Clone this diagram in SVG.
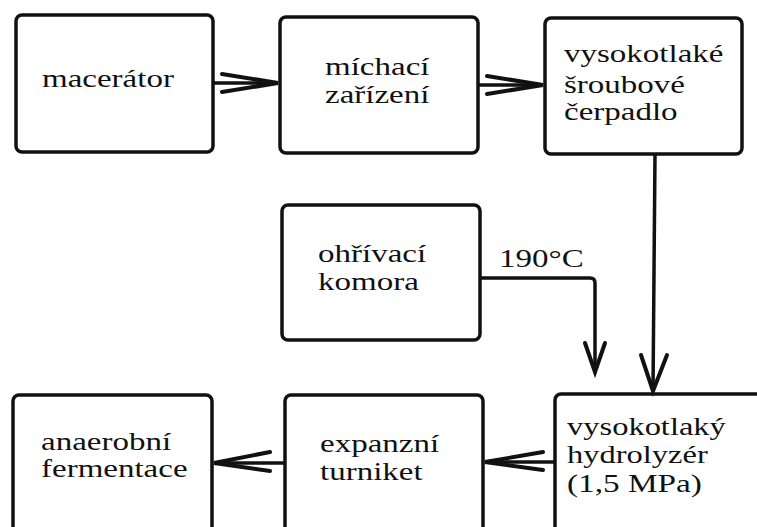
<svg xmlns="http://www.w3.org/2000/svg" width="757" height="527" viewBox="0 0 757 527">
<style>
.box{fill:#fff;stroke:#111;stroke-width:3.5}
.t{font-family:'Liberation Serif','Times New Roman',serif;font-size:26px;fill:#111}
.ln{fill:none;stroke:#111;stroke-width:3.5;stroke-linejoin:round}
.ah{fill:none;stroke:#111;stroke-width:4;stroke-linecap:round;stroke-linejoin:miter}
</style>
<rect width="757" height="527" fill="#fff"/>
<g id="macerator">
<rect class="box" x="16" y="15" width="197" height="137" rx="6"/>
<text class="t" transform="translate(42,87) scale(1.27,1)">macerátor</text>
</g>
<g id="michaci">
<rect class="box" x="280" y="17" width="198" height="136" rx="6"/>
<text class="t" transform="translate(325,75) scale(1.27,1)">míchací</text>
<text class="t" transform="translate(325,103) scale(1.27,1)">zařízení</text>
</g>
<g id="cerpadlo">
<rect class="box" x="545" y="18" width="197" height="136" rx="6"/>
<text class="t" transform="translate(564,62) scale(1.27,1)">vysokotlaké</text>
<text class="t" transform="translate(564,93) scale(1.27,1)">šroubové</text>
<text class="t" transform="translate(564,120) scale(1.27,1)">čerpadlo</text>
</g>
<g id="ohrivaci">
<rect class="box" x="282" y="205" width="198" height="135" rx="6"/>
<text class="t" transform="translate(318,262) scale(1.27,1)">ohřívací</text>
<text class="t" transform="translate(318,290) scale(1.27,1)">komora</text>
</g>
<g id="hydrolyzer">
<rect class="box" x="555" y="394" width="215" height="150" rx="6"/>
<text class="t" transform="translate(567,435) scale(1.25,1)">vysokotlaký</text>
<text class="t" transform="translate(567,463) scale(1.25,1)">hydrolyzér</text>
<text class="t" transform="translate(567,492) scale(1.28,1)">(1,5 MPa)</text>
</g>
<g id="expanzni">
<rect class="box" x="285" y="395" width="198" height="150" rx="6"/>
<text class="t" transform="translate(320,452) scale(1.27,1)">expanzní</text>
<text class="t" transform="translate(320,480) scale(1.27,1)">turniket</text>
</g>
<g id="anaerobni">
<rect class="box" x="13" y="395" width="199" height="150" rx="6"/>
<text class="t" transform="translate(41,450) scale(1.27,1)">anaerobní</text>
<text class="t" transform="translate(41,477) scale(1.27,1)">fermentace</text>
</g>
<g id="connectors">
<line class="ln" x1="213" y1="83" x2="278" y2="83"/>
<polyline class="ah" points="222,74 278,83 222,92"/>
<line class="ln" x1="478" y1="85" x2="543" y2="85"/>
<polyline class="ah" points="487,76 543,85 487,94"/>
<line class="ln" x1="655" y1="154" x2="653" y2="391"/>
<polyline class="ah" points="641,355 653,391 667,355"/>
<path class="ln" d="M480,278 H590 Q595,278 595,283 V371"/>
<polyline class="ah" points="585,343 595,372 605,343"/>
<text class="t" transform="translate(499,267) scale(1.27,1)">190°C</text>
<line class="ln" x1="555" y1="462" x2="485" y2="462"/>
<polyline class="ah" points="543,452 485,462 543,470"/>
<line class="ln" x1="285" y1="463" x2="214" y2="463"/>
<polyline class="ah" points="270,452 214,463 270,471"/>
</g>
</svg>
